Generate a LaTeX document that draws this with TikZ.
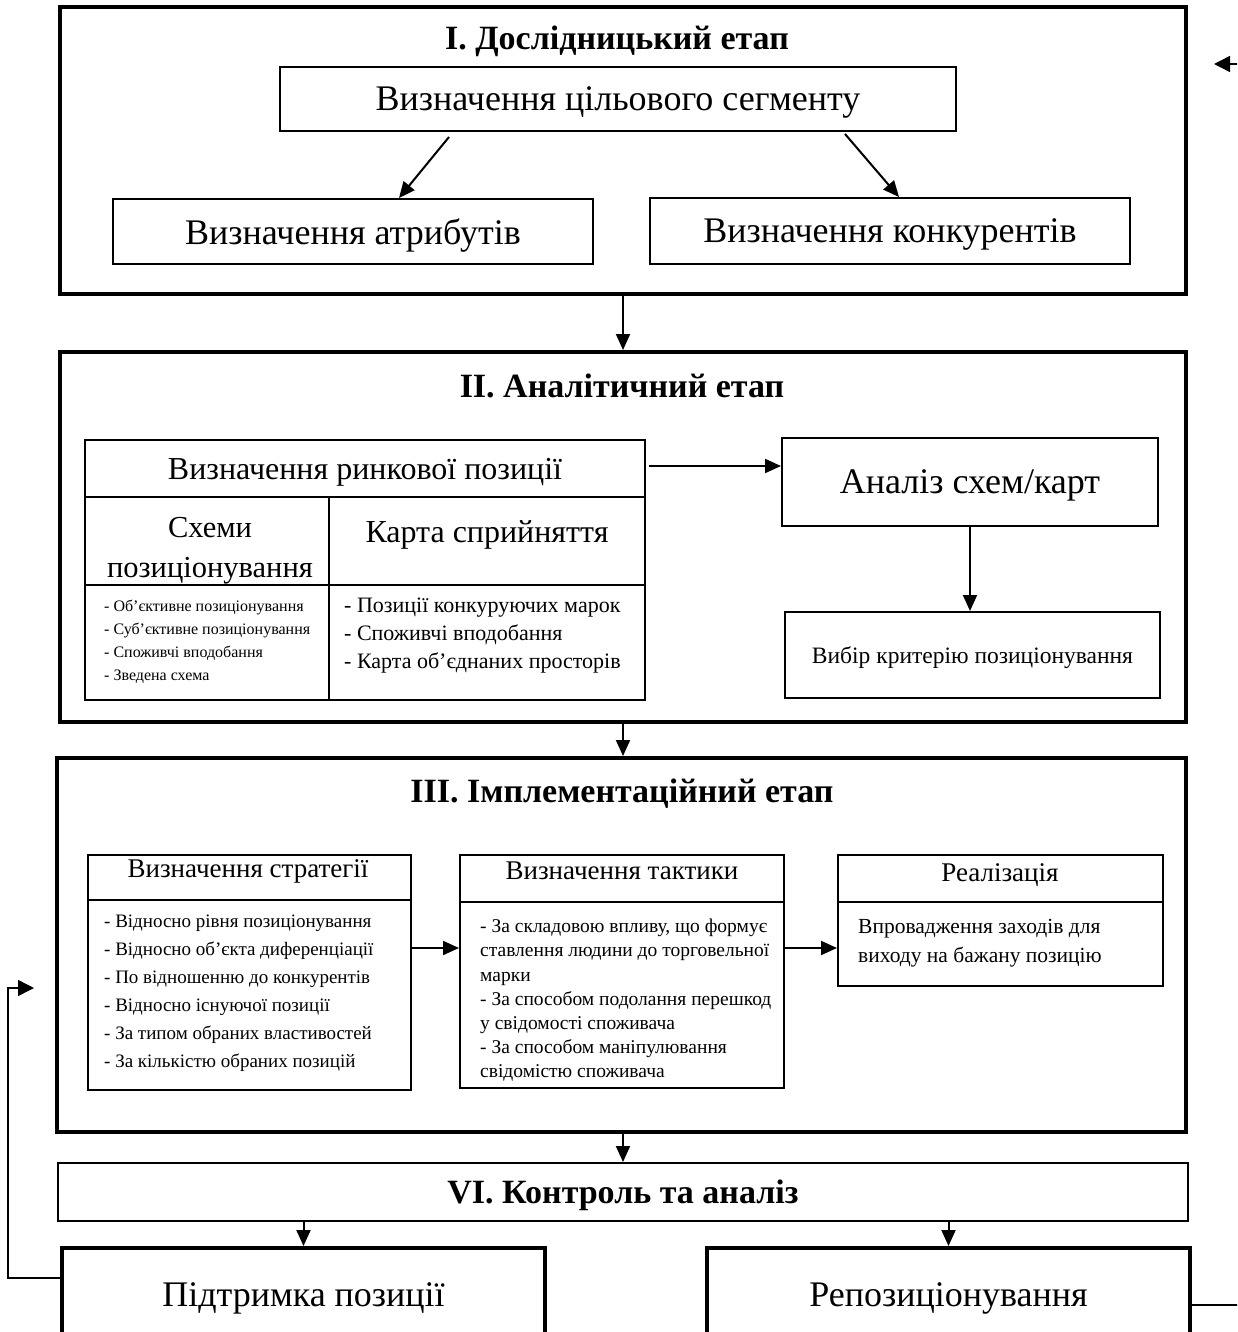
\documentclass[tikz,border=0pt]{standalone}
\usepackage{fontspec}
\setmainfont{Liberation Serif}
\usetikzlibrary{arrows.meta}

\tikzset{
  stage/.style={draw, line width=4pt, inner sep=0pt},
  box/.style={draw, line width=2pt, inner sep=0pt},
  arr/.style={-{Triangle[length=16pt,width=14pt]}, line width=2pt},
  fb/.style={-{Triangle[length=16pt,width=16pt]}, line width=1.5pt},
  title/.style={font=\fontsize{34}{40}\selectfont\bfseries, text depth=0pt},
  big/.style={font=\fontsize{36}{42}\selectfont, text depth=0pt},
  mid/.style={font=\fontsize{32}{40}\selectfont},
  head/.style={font=\fontsize{27}{30}\selectfont},
  list/.style={align=left, anchor=north west, inner sep=0pt},
}

\begin{document}
\begin{tikzpicture}[x=1pt,y=-1pt]
\clip (0,0) rectangle (1237,1332);
\fill[white] (0,0) rectangle (1237,1332);

% I
\node[stage, minimum width=1126, minimum height=287] (st1) at (623,150.5) {};
\node[title] (t1) at (617,38) {I. Дослідницький етап};
\node[box, big, minimum width=676, minimum height=64] (seg) at (618,99) {Визначення цільового сегменту};
\node[box, big, minimum width=480, minimum height=65] (attr) at (353,231.5) {Визначення атрибутів};
\node[box, big, minimum width=480, minimum height=66] (comp) at (890,231) {Визначення конкурентів};
\draw[arr] ([xshift=-169pt,yshift=-5pt]seg.south) -- ([xshift=46pt]attr.north);
\draw[arr] ([xshift=227pt,yshift=-2pt]seg.south) -- ([xshift=9pt]comp.north);

% II
\node[stage, minimum width=1126, minimum height=370] (st2) at (623,537) {};
\node[title] (t2) at (622,386) {II. Аналітичний етап};
\draw[arr] (st1.south) -- (st2.north);

\node[box, minimum width=560, minimum height=260] (mkt) at (365,570) {};
\draw[line width=2pt] (mkt.west |- 0,497) -- (mkt.east |- 0,497);
\draw[line width=2pt] (mkt.west |- 0,585) -- (mkt.east |- 0,585);
\draw[line width=2pt] (329,497) -- (mkt.south -| 329,0);
\node[mid] (mkth) at (365,472) {Визначення ринкової позиції};
\node[font=\fontsize{30.5}{40}\selectfont, align=center] (schh) at (210,551) {Схеми\\позиціонування};
\node[mid] (maph) at (487,535) {Карта сприйняття};
\node[list, font=\fontsize{16}{23}\selectfont] (schl) at (104,600)
  {- Об’єктивне позиціонування\\- Суб’єктивне позиціонування\\- Споживчі вподобання\\- Зведена схема};
\node[list, font=\fontsize{22}{28}\selectfont] (mapl) at (344,598)
  {- Позиції конкуруючих марок\\- Споживчі вподобання\\- Карта об’єднаних просторів};

\node[box, font=\fontsize{36}{40}\selectfont, text depth=0pt, minimum width=376, minimum height=88] (anal) at (970,482) {Аналіз схем/карт};
\node[box, font=\fontsize{23.5}{28}\selectfont, text depth=0pt, minimum width=375, minimum height=86] (cho) at (972.5,655) {Вибір критерію позиціонування};
\draw[arr] ([xshift=3pt,yshift=16pt]mkt.east |- anal.west) -- ([yshift=16pt]anal.west);
\draw[arr] (anal.south) -- (anal.south |- cho.north);

% III
\node[stage, minimum width=1129, minimum height=374] (st3) at (621.5,945) {};
\node[title] (t3) at (622,791) {III. Імплементаційний етап};
\draw[arr] (st2.south) -- (st2.south |- st3.north);

\node[box, minimum width=323, minimum height=235] (strat) at (249.5,972.5) {};
\node[box, minimum width=324, minimum height=233] (tact) at (622,971.5) {};
\node[box, minimum width=325, minimum height=131] (real) at (1000.5,920.5) {};
\draw[line width=2pt] (strat.west |- 0,900) -- (strat.east |- 0,900);
\draw[line width=2pt] (tact.west |- 0,902) -- (tact.east |- 0,902);
\draw[line width=2pt] (real.west |- 0,902) -- (real.east |- 0,902);
\node[head] (strath) at (248,871) {Визначення стратегії};
\node[head] (tacth) at (622,871) {Визначення тактики};
\node[head] (realh) at (1000,875) {Реалізація};
\node[list, font=\fontsize{19}{28}\selectfont] (stratl) at (104,915)
  {- Відносно рівня позиціонування\\- Відносно об’єкта диференціації\\- По відношенню до конкурентів\\- Відносно існуючої позиції\\- За типом обраних властивостей\\- За кількістю обраних позицій};
\node[list, font=\fontsize{19.5}{24.2}\selectfont] (tactl) at (480,919)
  {- За складовою впливу, що формує\\ставлення людини до торговельної\\марки\\- За способом подолання перешкод\\у свідомості споживача\\- За способом маніпулювання\\свідомістю споживача};
\node[list, font=\fontsize{21.5}{29}\selectfont] (reall) at (858,919)
  {Впровадження заходів для\\виходу на бажану позицію};
\draw[arr] ([yshift=24.5pt]strat.east) -- ([yshift=24.5pt]strat.east -| tact.west);
\draw[arr] ([yshift=24.5pt]strat.east -| tact.east) -- ([yshift=24.5pt]strat.east -| real.west);

% VI
\node[box, title, minimum width=1130, minimum height=58] (vi) at (623,1192) {VI. Контроль та аналіз};
\draw[arr] (st3.south -| vi.north) -- (vi.north);
\node[stage, big, minimum width=483, minimum height=94] (keep) at (303.5,1295) {Підтримка позиції};
\node[stage, big, minimum width=483, minimum height=94] (rep) at (948.5,1295) {Репозиціонування};
\draw[arr] (vi.south -| keep.north) -- (keep.north);
\draw[arr] (vi.south -| rep.north) -- (rep.north);

% feedback
\coordinate (fbL) at (34,988);
\coordinate (fbR) at (1214,64);
\draw[fb] ([yshift=17pt]keep.west) -| (8,988) -- (fbL);
\draw[fb] ([yshift=-10pt]rep.east) -- (1300,1305) |- (fbR);
\end{tikzpicture}
\end{document}
